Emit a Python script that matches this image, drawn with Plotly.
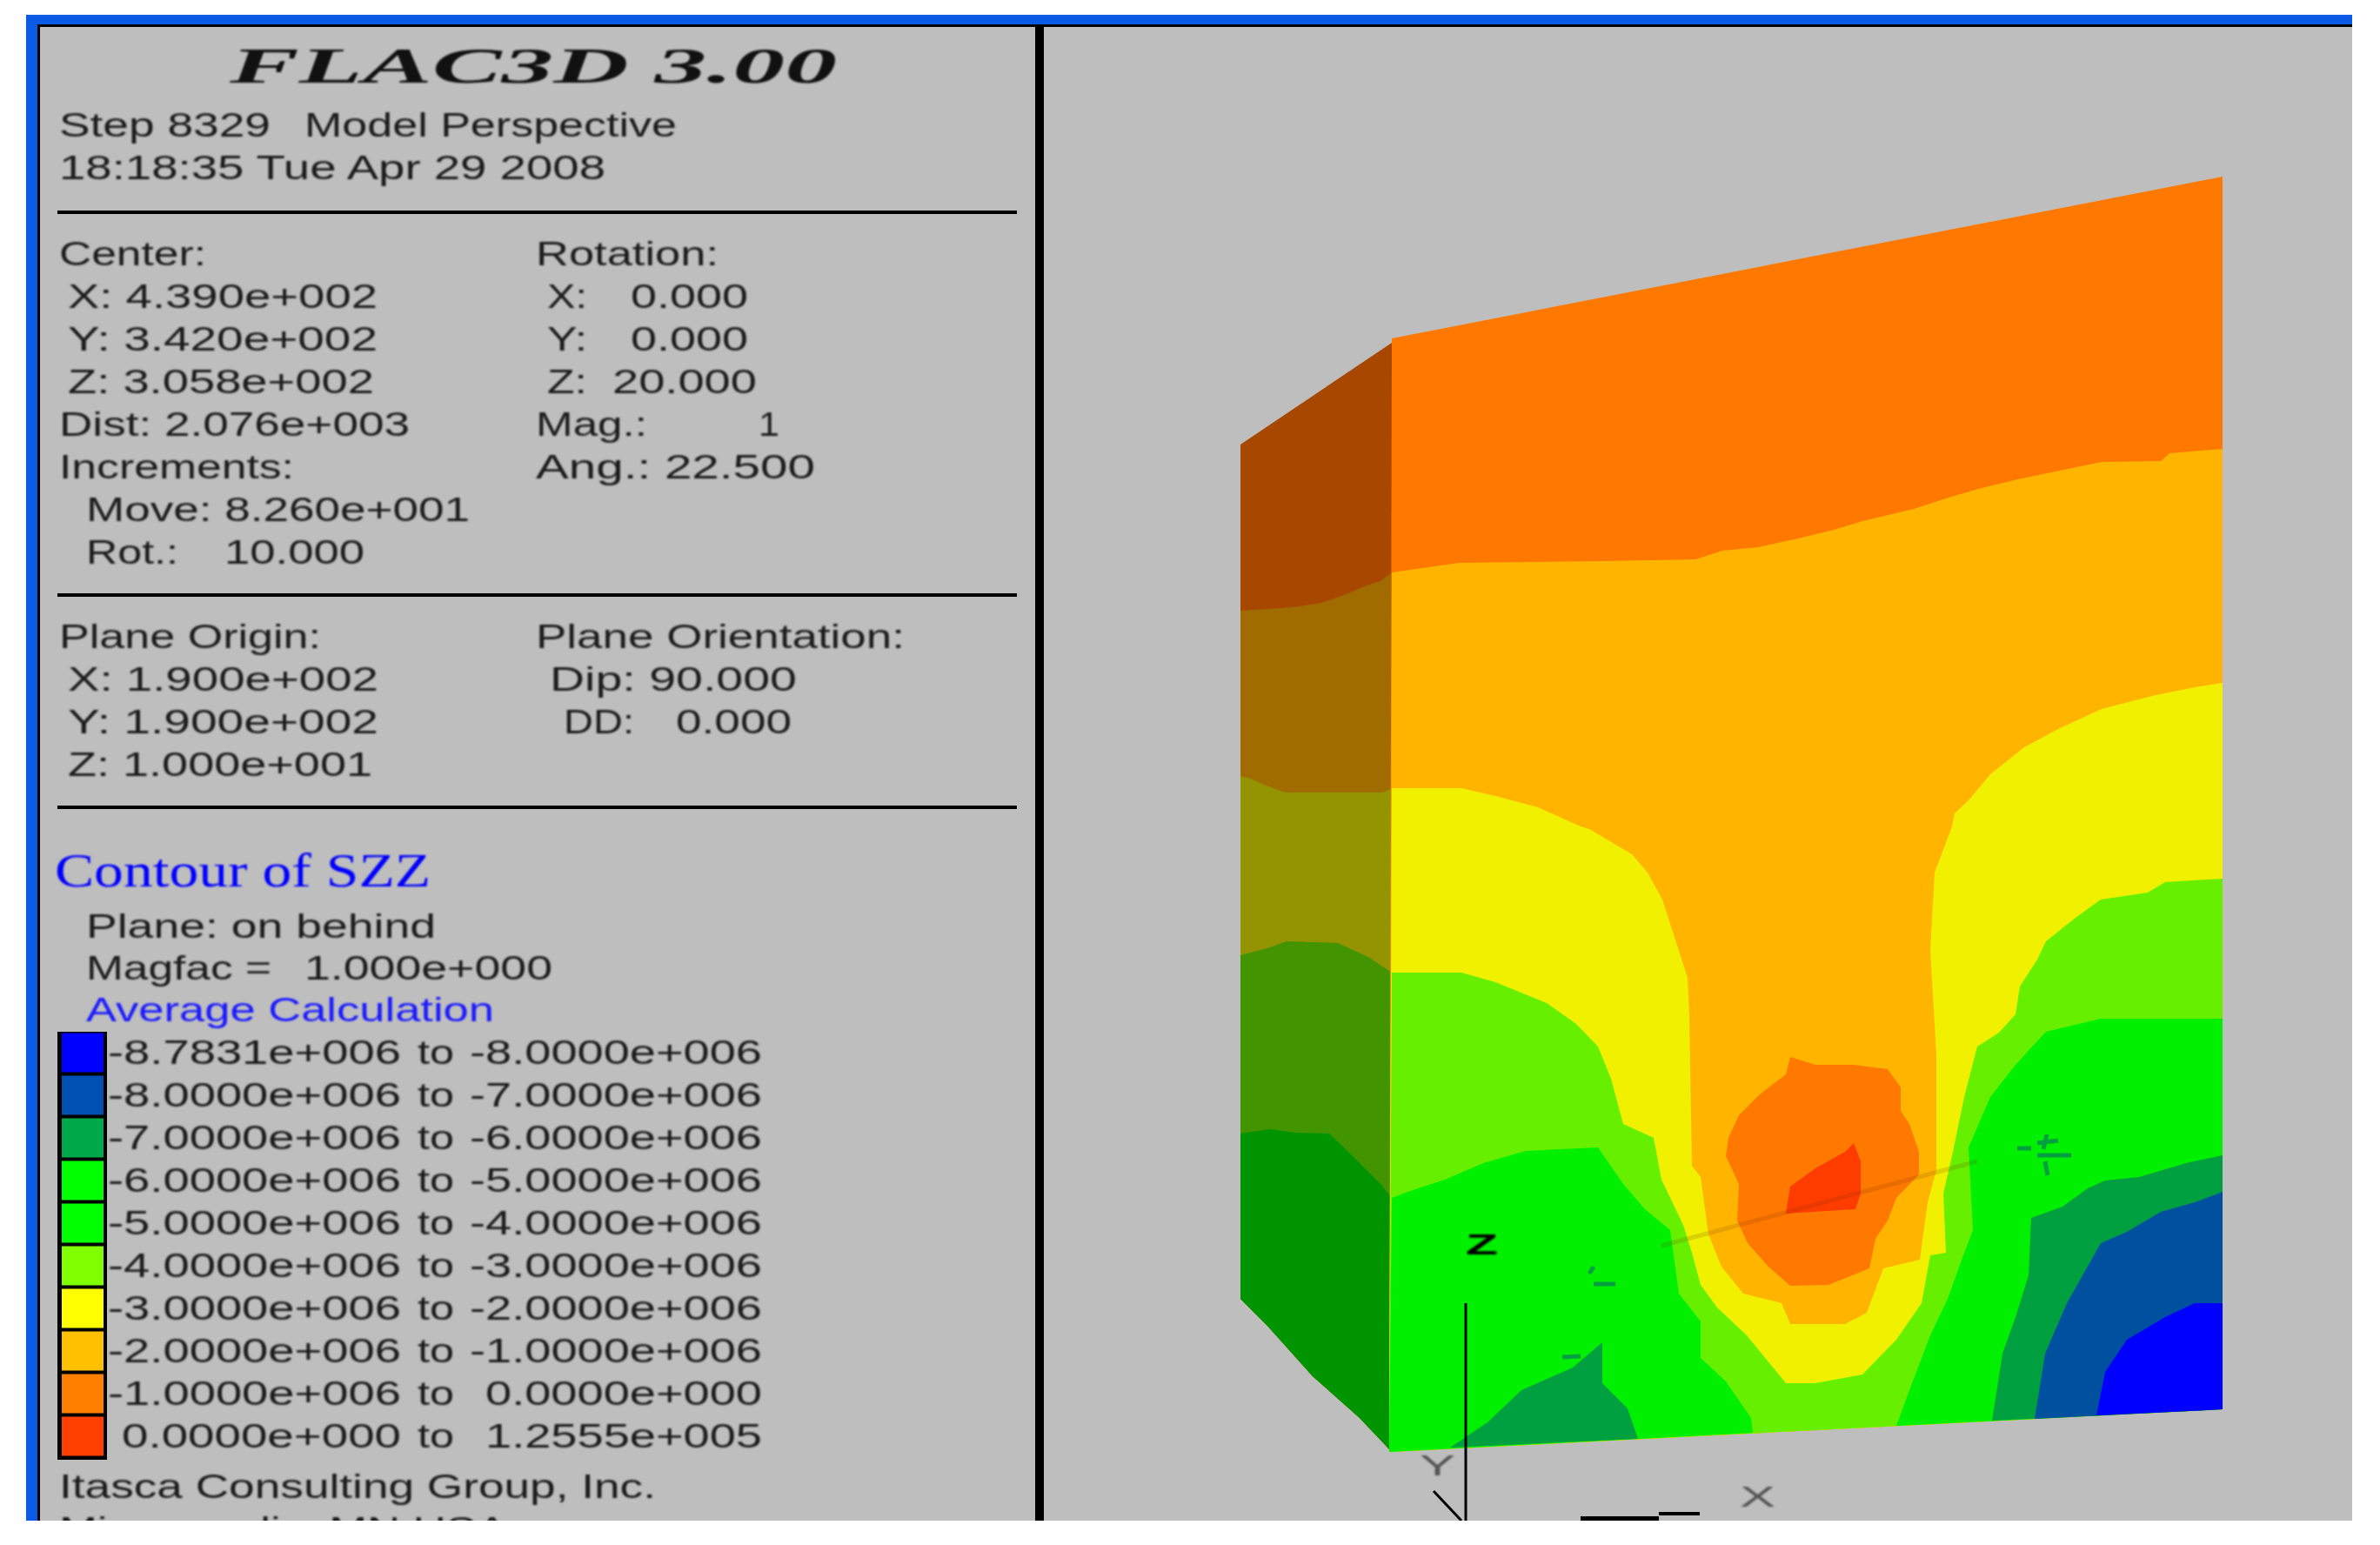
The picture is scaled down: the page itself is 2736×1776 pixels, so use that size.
import json
import plotly.graph_objects as go

# contour bands (pixel coords of the image)
front_face = [(1600, 389), (2555, 203), (2555, 1620), (1597, 1669)]
amber_top = [(1600, 658), (1636, 653), (1677, 647), (1842, 645), (1949, 643), (1980, 633), (2021, 629),
             (2067, 619), (2108, 609), (2141, 599), (2200, 585), (2243, 571), (2278, 561), (2324, 550),
             (2371, 540), (2416, 531), (2484, 530), (2494, 521), (2555, 516)]
yellow_top = [(1600, 906), (1680, 906), (1719, 915), (1768, 928), (1817, 950), (1827, 953), (1876, 982),
              (1894, 1003), (1911, 1034), (1930, 1092), (1940, 1124), (1942, 1166), (1945, 1340), (1955, 1353),
              (1964, 1419), (1979, 1456), (2004, 1487), (2048, 1498), (2058, 1522), (2121, 1522), (2146, 1509),
              (2165, 1458), (2207, 1448), (2216, 1382), (2226, 1345), (2226, 1213), (2219, 1092), (2224, 1003),
              (2244, 950), (2247, 935), (2263, 920), (2288, 890), (2327, 859), (2366, 838), (2416, 815),
              (2474, 800), (2523, 790), (2555, 785)]
lime_top = [(1600, 1118), (1680, 1118), (1719, 1129), (1778, 1153), (1812, 1177), (1837, 1203), (1852, 1240),
            (1866, 1292), (1901, 1308), (1910, 1356), (1935, 1408), (1945, 1440), (1955, 1477), (1974, 1503),
            (2008, 1535), (2053, 1590), (2087, 1590), (2141, 1580), (2180, 1540), (2209, 1498), (2219, 1443),
            (2237, 1440), (2234, 1372), (2244, 1329), (2258, 1261), (2273, 1203), (2298, 1187), (2317, 1166),
            (2322, 1134), (2342, 1103), (2352, 1082), (2386, 1055), (2415, 1034), (2469, 1026), (2489, 1014),
            (2555, 1010)]
green_left = [(1600, 1377), (1621, 1369), (1661, 1356), (1705, 1337), (1754, 1323), (1837, 1319), (1866, 1361),
              (1891, 1390), (1920, 1414), (1930, 1487), (1955, 1519), (1955, 1561), (1984, 1588), (2013, 1630),
              (2015, 1647), (1597, 1669)]
green_right = [(2180, 1639), (2195, 1598), (2219, 1535), (2239, 1493), (2254, 1451), (2268, 1414), (2263, 1319),
               (2288, 1261), (2317, 1224), (2352, 1186), (2415, 1171), (2555, 1171), (2555, 1620)]
dark_right = [(2290, 1633), (2302, 1556), (2317, 1514), (2332, 1466), (2335, 1400), (2371, 1387), (2400, 1366),
              (2420, 1357), (2459, 1353), (2513, 1337), (2555, 1328), (2555, 1620)]
navy_right = [(2339, 1631), (2351, 1556), (2376, 1498), (2415, 1429), (2445, 1416), (2484, 1393), (2523, 1382),
              (2555, 1370), (2555, 1620)]
blue_right = [(2410, 1627), (2420, 1577), (2445, 1540), (2489, 1514), (2523, 1498), (2555, 1498), (2555, 1620)]
dark_wedge = [(1667, 1664), (1710, 1635), (1749, 1598), (1808, 1572), (1842, 1543), (1842, 1590), (1871, 1619),
              (1883, 1654)]
orange_blob = [(2058, 1215), (2087, 1224), (2131, 1224), (2170, 1229), (2185, 1250), (2185, 1277), (2195, 1292),
               (2206, 1324), (2206, 1350), (2180, 1377), (2170, 1403), (2156, 1424), (2149, 1458), (2102, 1477),
               (2058, 1478), (2033, 1456), (2009, 1429), (1997, 1403), (1999, 1361), (1984, 1329), (1987, 1308),
               (1999, 1282), (2023, 1258), (2053, 1235)]
red_core = [(2131, 1314), (2139, 1335), (2139, 1372), (2133, 1390), (2053, 1395), (2058, 1364), (2087, 1343),
            (2121, 1324)]

side_top = [(1426, 511), (1600, 394)]
side_bottom = [(1600, 1669), (1563, 1630), (1509, 1582), (1457, 1524), (1426, 1493)]
side_amber = [(1426, 702), (1487, 698), (1519, 693), (1548, 683), (1571, 673), (1587, 668), (1600, 658)]
side_yellow = [(1426, 892), (1440, 896), (1453, 902), (1477, 911), (1590, 911), (1600, 906)]
side_lime = [(1426, 1098), (1457, 1090), (1479, 1082), (1538, 1084), (1573, 1100), (1600, 1118)]
side_green = [(1426, 1303), (1460, 1298), (1489, 1302), (1528, 1303), (1553, 1327), (1587, 1361), (1600, 1377)]

plane_line = [(1910, 1432), (2273, 1335)]
speck_lines = [[(2342, 1314), (2366, 1311)], [(2353, 1304), (2349, 1321)], [(2319, 1320), (2335, 1320)],
               [(2342, 1328), (2381, 1328)], [(2351, 1335), (2354, 1351)], [(1832, 1456), (1827, 1464)],
               [(1832, 1476), (1857, 1476)], [(1796, 1560), (1817, 1559)]]
axis_lines = [([(1685, 1498), (1685, 1748)], 3), ([(1648, 1714), (1680, 1748)], 3),
              ([(1817, 1746), (1907, 1746)], 6), ([(1907, 1740), (1954, 1740)], 4)]

legend_low = ["-8.7831e+006", "-8.0000e+006", "-7.0000e+006", "-6.0000e+006", "-5.0000e+006",
              "-4.0000e+006", "-3.0000e+006", "-2.0000e+006", "-1.0000e+006", "0.0000e+000"]
legend_high = ["-8.0000e+006", "-7.0000e+006", "-6.0000e+006", "-5.0000e+006", "-4.0000e+006",
               "-3.0000e+006", "-2.0000e+006", "-1.0000e+006", "0.0000e+000", "1.2555e+005"]
legend_colors = ["#0000ff", "#0050b4", "#00aa4a", "#00ff00", "#00ff00", "#80ff00", "#ffff00", "#ffc000",
                 "#ff8000", "#ff4000"]

# text, left x, centre y, drawn width
panel = [("Step 8329", 68, 147, 243), ("Model Perspective", 350, 147, 428),
         ("18:18:35 Tue Apr 29 2008", 68, 196, 628),
         ("Center:", 68, 295, 169), ("Rotation:", 616, 295, 210),
         ("X: 4.390e+002", 78, 344, 356), ("X:", 629, 344, 46), ("0.000", 725, 344, 135),
         ("Y: 3.420e+002", 78, 393, 356), ("Y:", 629, 393, 46), ("0.000", 725, 393, 135),
         ("Z: 3.058e+002", 78, 442, 352), ("Z:", 629, 442, 46), ("20.000", 704, 442, 166),
         ("Dist: 2.076e+003", 68, 491, 403), ("Mag.:", 616, 491, 128), ("1", 872, 491, 24),
         ("Increments:", 68, 540, 270), ("Ang.: 22.500", 616, 540, 321),
         ("Move: 8.260e+001", 99, 589, 441), ("Rot.:", 99, 638, 106), ("10.000", 258, 638, 161),
         ("Plane Origin:", 68, 735, 301), ("Plane Orientation:", 616, 735, 424),
         ("X: 1.900e+002", 78, 784, 357), ("Dip: 90.000", 632, 784, 284),
         ("Y: 1.900e+002", 78, 833, 357), ("DD:", 648, 833, 81), ("0.000", 777, 833, 133),
         ("Z: 1.000e+001", 78, 882, 350),
         ("Plane: on behind", 99, 1068, 402), ("Magfac =", 99, 1116, 213), ("1.000e+000", 350, 1116, 285),
         ("Itasca Consulting Group, Inc.", 68, 1712, 686), ("Minneapolis, MN USA", 68, 1761, 515)]
legend_y = [1210 + 49 * i for i in range(10)]
for lo, hi, ly in zip(legend_low, legend_high, legend_y):
    panel.append((lo, 124 if lo[0] == "-" else 140, ly + 3, 337 if lo[0] == "-" else 321))
    panel.append(("to", 480, ly + 3, 42))
    panel.append((hi, 540 if hi[0] == "-" else 558, ly + 3, 336 if hi[0] == "-" else 318))

texts = [p[0] for p in panel]
xs = [p[1] for p in panel]
ys = [p[2] for p in panel]
widths = [p[3] for p in panel]
fams = ["Liberation Sans"] * len(panel)
sizes = [38] * len(panel)
cols = ["#1c1c1c"] * len(panel)
styles = ["normal"] * len(panel)
weights = ["normal"] * len(panel)


def add_text(t, x, y, w, fam="Liberation Sans", size=38, col="#1c1c1c", style="normal", weight="normal"):
    texts.append(t); xs.append(x); ys.append(y); widths.append(w); fams.append(fam)
    sizes.append(size); cols.append(col); styles.append(style); weights.append(weight)


add_text("FLAC3D 3.00", 264, 81, 698, "Liberation Serif", 56, "#111111", "italic", "bold")
add_text("Contour of SZZ", 63, 1005, 432, "Liberation Serif", 55, "#0000ff")
add_text("Average Calculation", 99, 1164, 469, col="#1a1aff")
add_text("Z", 1685, 1433, 37, size=34, col="#000000", weight="bold")
add_text("Y", 1632, 1687, 41, size=34, col="#555555")
add_text("X", 2000, 1723, 41, size=34, col="#555555")


def poly(fig, pts, color):
    fig.add_trace(go.Scatter(x=[p[0] for p in pts], y=[p[1] for p in pts], mode="lines", fill="toself",
                             fillcolor=color, line=dict(width=0), hoverinfo="skip"))


def seg(fig, pts, color, w):
    fig.add_trace(go.Scatter(x=[p[0] for p in pts], y=[p[1] for p in pts], mode="lines",
                             line=dict(color=color, width=w), hoverinfo="skip"))


fig = go.Figure()
poly(fig, side_top + side_bottom, "#a84800")
poly(fig, side_amber + side_bottom, "#a06c00")
poly(fig, side_yellow + side_bottom, "#949400")
poly(fig, side_lime + side_bottom, "#429400")
poly(fig, side_green + side_bottom, "#009400")

bottom = [(2555, 1620), (1597, 1669)]
poly(fig, front_face, "#ff7800")
poly(fig, amber_top + bottom, "#ffb400")
poly(fig, yellow_top + bottom, "#f0f000")
poly(fig, lime_top + bottom, "#66f000")
poly(fig, green_left, "#00f000")
poly(fig, green_right, "#00f000")
poly(fig, dark_right, "#00a040")
poly(fig, navy_right, "#0050a0")
poly(fig, blue_right, "#0000ff")
poly(fig, dark_wedge, "#00a040")
poly(fig, orange_blob, "#ff7800")
poly(fig, red_core, "#ff3c00")

seg(fig, plane_line, "rgba(110,50,0,0.16)", 5)
for s in speck_lines:
    seg(fig, s, "#00a040", 5)
for pts, w in axis_lines:
    seg(fig, pts, "#000000", w)

fig.add_trace(go.Scatter(x=xs, y=ys, text=texts, mode="text", textposition="middle right", hoverinfo="skip",
                         textfont=dict(family=fams, size=sizes, color=cols, style=styles, weight=weights)))

shapes = [
    dict(type="rect", x0=30, x1=2704, y0=17, y1=1748, fillcolor="#0a5ae6", line_width=0, layer="below"),
    dict(type="rect", x0=43, x1=2704, y0=28, y1=1748, fillcolor="#000000", line_width=0, layer="below"),
    dict(type="rect", x0=46, x1=2704, y0=31, y1=1748, fillcolor="#bebebe", line_width=0, layer="below"),
    dict(type="rect", x0=1190, x1=1200, y0=28, y1=1748, fillcolor="#000000", line_width=0, layer="below"),
    dict(type="rect", x0=66, x1=123, y0=1186, y1=1678, fillcolor="#000000", line_width=0, layer="below"),
    # picture is cut off at the bottom
    dict(type="rect", x0=0, x1=2736, y0=1748, y1=1776, fillcolor="#ffffff", line_width=0, layer="above"),
]
for ly in [244, 684, 928]:
    shapes.append(dict(type="rect", x0=66, x1=1169, y0=ly - 2, y1=ly + 2, fillcolor="#000000", line_width=0,
                       layer="below"))
for ly, c in zip(legend_y, legend_colors):
    shapes.append(dict(type="rect", x0=71, x1=119, y0=ly - 22.5, y1=ly + 22.5, fillcolor=c, line_width=0,
                       layer="below"))

fig.update_layout(width=2736, height=1776, margin=dict(l=0, r=0, t=0, b=0), showlegend=False,
                  paper_bgcolor="#ffffff", plot_bgcolor="rgba(0,0,0,0)", shapes=shapes,
                  xaxis=dict(range=[0, 2736], visible=False), yaxis=dict(range=[1776, 0], visible=False))

# the original text is a stretched bitmap font: force each label to its measured width
stretch = """
document.body.style.margin = '0';
var w = %s;
document.querySelectorAll('.textpoint text').forEach(function (t, i) {
    t.setAttribute('textLength', w[i]);
    t.setAttribute('lengthAdjust', 'spacingAndGlyphs');
    t.style.filter = 'blur(0.8px)';
});
""" % json.dumps(widths)

fig.write_html("out.html", post_script=stretch, config=dict(displayModeBar=False))
